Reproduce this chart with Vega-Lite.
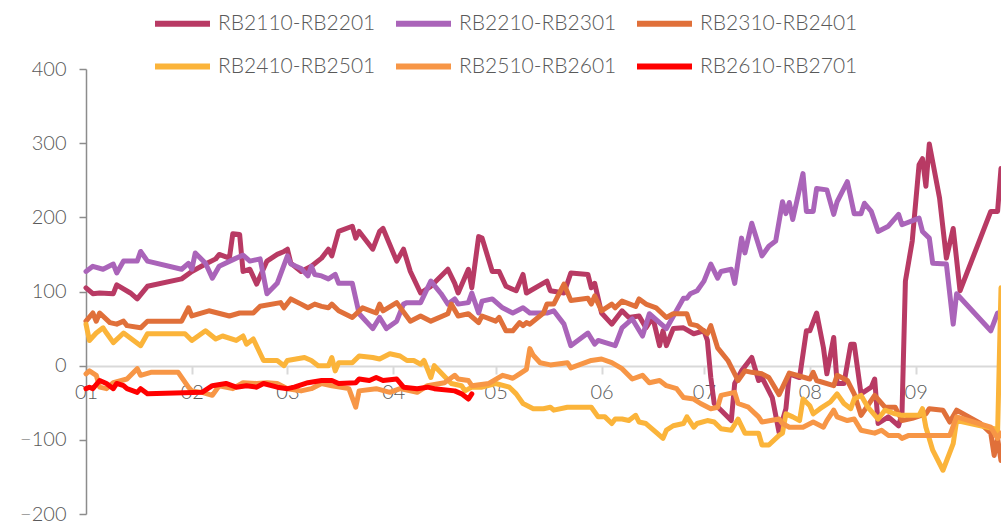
{
"$schema": "https://vega.github.io/schema/vega-lite/v6.json",
"width": 915, "height": 445,
"autosize": {"type": "none"},
"padding": {"left": 86, "top": 69, "right": 0, "bottom": 8},
"background": "white",
"config": {
  "view": {"stroke": null},
  "font": "Lato",
  "legend": {"orient": "none", "legendX": 66, "legendY": -76, "direction": "horizontal", "columns": 3,
    "symbolType": "stroke", "symbolSize": 3025, "symbolStrokeWidth": 6, "labelFontSize": 21, "labelFontWeight": 300,
    "labelColor": "#595959", "labelFont": "Lato", "labelOffset": 5, "columnPadding": 8, "rowPadding": -4, "labelLimit": 0}
},
"datasets": {
"s1": [{"d":"2021-01-01","v":105},{"d":"2021-01-03","v":97},{"d":"2021-01-05","v":98},{"d":"2021-01-09","v":97},{"d":"2021-01-10","v":109},{"d":"2021-01-14","v":98},{"d":"2021-01-16","v":90},{"d":"2021-01-19","v":107},{"d":"2021-01-29","v":117},{"d":"2021-02-01","v":127},{"d":"2021-02-05","v":137},{"d":"2021-02-08","v":144},{"d":"2021-02-09","v":150},{"d":"2021-02-12","v":145},{"d":"2021-02-13","v":178},{"d":"2021-02-15","v":177},{"d":"2021-02-16","v":127},{"d":"2021-02-18","v":130},{"d":"2021-02-20","v":110},{"d":"2021-02-23","v":141},{"d":"2021-02-26","v":150},{"d":"2021-02-28","v":154},{"d":"2021-03-01","v":157},{"d":"2021-03-02","v":138},{"d":"2021-03-05","v":127},{"d":"2021-03-08","v":134},{"d":"2021-03-11","v":145},{"d":"2021-03-13","v":157},{"d":"2021-03-14","v":148},{"d":"2021-03-16","v":181},{"d":"2021-03-20","v":188},{"d":"2021-03-21","v":172},{"d":"2021-03-22","v":181},{"d":"2021-03-26","v":157},{"d":"2021-03-28","v":181},{"d":"2021-03-29","v":185},{"d":"2021-04-02","v":141},{"d":"2021-04-04","v":157},{"d":"2021-04-06","v":127},{"d":"2021-04-09","v":98},{"d":"2021-04-12","v":107},{"d":"2021-04-17","v":130},{"d":"2021-04-19","v":111},{"d":"2021-04-20","v":98},{"d":"2021-04-23","v":130},{"d":"2021-04-24","v":105},{"d":"2021-04-26","v":174},{"d":"2021-04-27","v":172},{"d":"2021-04-30","v":127},{"d":"2021-05-02","v":127},{"d":"2021-05-04","v":107},{"d":"2021-05-07","v":101},{"d":"2021-05-09","v":123},{"d":"2021-05-10","v":98},{"d":"2021-05-16","v":114},{"d":"2021-05-17","v":101},{"d":"2021-05-21","v":98},{"d":"2021-05-23","v":125},{"d":"2021-05-28","v":123},{"d":"2021-05-29","v":105},{"d":"2021-05-30","v":111},{"d":"2021-06-01","v":71},{"d":"2021-06-04","v":56},{"d":"2021-06-07","v":74},{"d":"2021-06-09","v":65},{"d":"2021-06-12","v":67},{"d":"2021-06-14","v":51},{"d":"2021-06-16","v":65},{"d":"2021-06-18","v":27},{"d":"2021-06-19","v":47},{"d":"2021-06-20","v":27},{"d":"2021-06-22","v":50},{"d":"2021-06-25","v":51},{"d":"2021-06-28","v":43},{"d":"2021-07-01","v":47},{"d":"2021-07-02","v":34},{"d":"2021-07-03","v":-16},{"d":"2021-07-04","v":-51},{"d":"2021-07-06","v":-60},{"d":"2021-07-09","v":-74},{"d":"2021-07-10","v":-24},{"d":"2021-07-12","v":-7},{"d":"2021-07-15","v":11},{"d":"2021-07-17","v":-20},{"d":"2021-07-18","v":-16},{"d":"2021-07-21","v":-43},{"d":"2021-07-23","v":-90},{"d":"2021-07-25","v":-58},{"d":"2021-07-26","v":-11},{"d":"2021-07-29","v":-16},{"d":"2021-07-31","v":47},{"d":"2021-08-01","v":47},{"d":"2021-08-03","v":71},{"d":"2021-08-05","v":24},{"d":"2021-08-06","v":-11},{"d":"2021-08-08","v":38},{"d":"2021-08-09","v":-24},{"d":"2021-08-11","v":-24},{"d":"2021-08-13","v":29},{"d":"2021-08-14","v":29},{"d":"2021-08-16","v":-38},{"d":"2021-08-19","v":-29},{"d":"2021-08-20","v":-18},{"d":"2021-08-21","v":-78},{"d":"2021-08-24","v":-69},{"d":"2021-08-27","v":-81},{"d":"2021-08-28","v":-65},{"d":"2021-08-29","v":114},{"d":"2021-08-31","v":168},{"d":"2021-09-02","v":271},{"d":"2021-09-03","v":279},{"d":"2021-09-04","v":242},{"d":"2021-09-05","v":299},{"d":"2021-09-08","v":226},{"d":"2021-09-10","v":145},{"d":"2021-09-12","v":185},{"d":"2021-09-14","v":101},{"d":"2021-09-23","v":208},{"d":"2021-09-25","v":208},{"d":"2021-09-26","v":266}],
"s2": [{"d":"2021-01-01","v":127},{"d":"2021-01-03","v":134},{"d":"2021-01-06","v":130},{"d":"2021-01-09","v":137},{"d":"2021-01-10","v":125},{"d":"2021-01-12","v":141},{"d":"2021-01-16","v":141},{"d":"2021-01-17","v":154},{"d":"2021-01-19","v":141},{"d":"2021-01-29","v":130},{"d":"2021-01-31","v":138},{"d":"2021-02-01","v":130},{"d":"2021-02-02","v":152},{"d":"2021-02-05","v":138},{"d":"2021-02-07","v":118},{"d":"2021-02-09","v":134},{"d":"2021-02-14","v":145},{"d":"2021-02-16","v":149},{"d":"2021-02-18","v":141},{"d":"2021-02-21","v":144},{"d":"2021-02-23","v":97},{"d":"2021-02-26","v":111},{"d":"2021-03-01","v":148},{"d":"2021-03-02","v":137},{"d":"2021-03-05","v":131},{"d":"2021-03-07","v":121},{"d":"2021-03-08","v":134},{"d":"2021-03-09","v":123},{"d":"2021-03-11","v":121},{"d":"2021-03-13","v":117},{"d":"2021-03-15","v":123},{"d":"2021-03-16","v":111},{"d":"2021-03-20","v":111},{"d":"2021-03-22","v":70},{"d":"2021-03-26","v":50},{"d":"2021-03-28","v":65},{"d":"2021-03-30","v":50},{"d":"2021-04-02","v":60},{"d":"2021-04-04","v":83},{"d":"2021-04-05","v":85},{"d":"2021-04-09","v":85},{"d":"2021-04-12","v":114},{"d":"2021-04-15","v":97},{"d":"2021-04-17","v":83},{"d":"2021-04-19","v":90},{"d":"2021-04-20","v":83},{"d":"2021-04-23","v":85},{"d":"2021-04-24","v":98},{"d":"2021-04-26","v":71},{"d":"2021-04-27","v":87},{"d":"2021-04-30","v":90},{"d":"2021-05-03","v":78},{"d":"2021-05-06","v":71},{"d":"2021-05-09","v":78},{"d":"2021-05-11","v":71},{"d":"2021-05-16","v":71},{"d":"2021-05-18","v":74},{"d":"2021-05-21","v":56},{"d":"2021-05-23","v":27},{"d":"2021-05-28","v":44},{"d":"2021-05-30","v":29},{"d":"2021-05-31","v":34},{"d":"2021-06-05","v":27},{"d":"2021-06-07","v":51},{"d":"2021-06-10","v":63},{"d":"2021-06-13","v":40},{"d":"2021-06-15","v":70},{"d":"2021-06-20","v":50},{"d":"2021-06-25","v":91},{"d":"2021-06-26","v":91},{"d":"2021-06-27","v":97},{"d":"2021-06-29","v":101},{"d":"2021-07-01","v":114},{"d":"2021-07-03","v":137},{"d":"2021-07-05","v":118},{"d":"2021-07-06","v":127},{"d":"2021-07-09","v":130},{"d":"2021-07-10","v":111},{"d":"2021-07-12","v":172},{"d":"2021-07-13","v":152},{"d":"2021-07-15","v":192},{"d":"2021-07-18","v":148},{"d":"2021-07-20","v":161},{"d":"2021-07-22","v":168},{"d":"2021-07-24","v":221},{"d":"2021-07-25","v":205},{"d":"2021-07-26","v":220},{"d":"2021-07-27","v":197},{"d":"2021-07-30","v":259},{"d":"2021-07-31","v":208},{"d":"2021-08-02","v":208},{"d":"2021-08-03","v":239},{"d":"2021-08-06","v":237},{"d":"2021-08-08","v":204},{"d":"2021-08-09","v":221},{"d":"2021-08-12","v":248},{"d":"2021-08-14","v":205},{"d":"2021-08-16","v":205},{"d":"2021-08-17","v":219},{"d":"2021-08-19","v":208},{"d":"2021-08-21","v":181},{"d":"2021-08-24","v":188},{"d":"2021-08-27","v":204},{"d":"2021-08-28","v":190},{"d":"2021-09-02","v":199},{"d":"2021-09-03","v":181},{"d":"2021-09-05","v":172},{"d":"2021-09-06","v":138},{"d":"2021-09-10","v":137},{"d":"2021-09-12","v":56},{"d":"2021-09-13","v":97},{"d":"2021-09-23","v":47},{"d":"2021-09-25","v":71},{"d":"2021-09-26","v":71}],
"s3": [{"d":"2021-01-01","v":60},{"d":"2021-01-03","v":71},{"d":"2021-01-04","v":60},{"d":"2021-01-05","v":71},{"d":"2021-01-08","v":58},{"d":"2021-01-10","v":56},{"d":"2021-01-12","v":60},{"d":"2021-01-13","v":54},{"d":"2021-01-17","v":51},{"d":"2021-01-19","v":60},{"d":"2021-01-29","v":60},{"d":"2021-01-31","v":78},{"d":"2021-02-01","v":67},{"d":"2021-02-06","v":74},{"d":"2021-02-12","v":67},{"d":"2021-02-15","v":71},{"d":"2021-02-19","v":71},{"d":"2021-02-21","v":80},{"d":"2021-02-27","v":85},{"d":"2021-02-28","v":78},{"d":"2021-03-02","v":90},{"d":"2021-03-05","v":83},{"d":"2021-03-07","v":78},{"d":"2021-03-09","v":83},{"d":"2021-03-11","v":80},{"d":"2021-03-13","v":78},{"d":"2021-03-14","v":83},{"d":"2021-03-16","v":74},{"d":"2021-03-20","v":65},{"d":"2021-03-23","v":78},{"d":"2021-03-27","v":71},{"d":"2021-03-28","v":83},{"d":"2021-03-29","v":74},{"d":"2021-04-02","v":85},{"d":"2021-04-06","v":60},{"d":"2021-04-09","v":67},{"d":"2021-04-12","v":60},{"d":"2021-04-17","v":70},{"d":"2021-04-18","v":83},{"d":"2021-04-20","v":67},{"d":"2021-04-23","v":70},{"d":"2021-04-26","v":58},{"d":"2021-04-27","v":67},{"d":"2021-05-01","v":60},{"d":"2021-05-02","v":65},{"d":"2021-05-04","v":47},{"d":"2021-05-06","v":47},{"d":"2021-05-08","v":58},{"d":"2021-05-09","v":54},{"d":"2021-05-10","v":58},{"d":"2021-05-11","v":56},{"d":"2021-05-15","v":71},{"d":"2021-05-16","v":83},{"d":"2021-05-18","v":83},{"d":"2021-05-21","v":110},{"d":"2021-05-23","v":88},{"d":"2021-05-28","v":91},{"d":"2021-05-29","v":83},{"d":"2021-05-30","v":94},{"d":"2021-06-01","v":74},{"d":"2021-06-04","v":83},{"d":"2021-06-05","v":78},{"d":"2021-06-07","v":87},{"d":"2021-06-11","v":80},{"d":"2021-06-12","v":90},{"d":"2021-06-14","v":83},{"d":"2021-06-17","v":78},{"d":"2021-06-20","v":65},{"d":"2021-06-22","v":70},{"d":"2021-06-26","v":70},{"d":"2021-06-27","v":56},{"d":"2021-06-29","v":54},{"d":"2021-07-02","v":43},{"d":"2021-07-03","v":54},{"d":"2021-07-05","v":24},{"d":"2021-07-08","v":7},{"d":"2021-07-10","v":-11},{"d":"2021-07-11","v":-20},{"d":"2021-07-13","v":-7},{"d":"2021-07-15","v":-9},{"d":"2021-07-18","v":-11},{"d":"2021-07-20","v":-16},{"d":"2021-07-23","v":-39},{"d":"2021-07-26","v":-10},{"d":"2021-08-01","v":-18},{"d":"2021-08-02","v":-9},{"d":"2021-08-03","v":-20},{"d":"2021-08-08","v":-27},{"d":"2021-08-09","v":-13},{"d":"2021-08-12","v":-20},{"d":"2021-08-14","v":-38},{"d":"2021-08-16","v":-67},{"d":"2021-08-20","v":-40},{"d":"2021-08-23","v":-56},{"d":"2021-08-26","v":-56},{"d":"2021-08-28","v":-74},{"d":"2021-08-31","v":-71},{"d":"2021-09-04","v":-65},{"d":"2021-09-05","v":-58},{"d":"2021-09-09","v":-60},{"d":"2021-09-11","v":-76},{"d":"2021-09-13","v":-60},{"d":"2021-09-20","v":-78},{"d":"2021-09-23","v":-91},{"d":"2021-09-24","v":-121},{"d":"2021-09-25","v":-98},{"d":"2021-09-26","v":-128}],
"s4": [{"d":"2021-01-01","v":56},{"d":"2021-01-02","v":34},{"d":"2021-01-04","v":44},{"d":"2021-01-06","v":51},{"d":"2021-01-07","v":44},{"d":"2021-01-09","v":31},{"d":"2021-01-12","v":44},{"d":"2021-01-17","v":27},{"d":"2021-01-19","v":43},{"d":"2021-01-30","v":43},{"d":"2021-02-01","v":34},{"d":"2021-02-05","v":47},{"d":"2021-02-08","v":36},{"d":"2021-02-10","v":40},{"d":"2021-02-14","v":34},{"d":"2021-02-16","v":40},{"d":"2021-02-17","v":29},{"d":"2021-02-19","v":36},{"d":"2021-02-22","v":7},{"d":"2021-02-26","v":7},{"d":"2021-02-28","v":0},{"d":"2021-03-01","v":7},{"d":"2021-03-06","v":11},{"d":"2021-03-08","v":7},{"d":"2021-03-10","v":0},{"d":"2021-03-13","v":0},{"d":"2021-03-14","v":11},{"d":"2021-03-15","v":-7},{"d":"2021-03-16","v":4},{"d":"2021-03-20","v":4},{"d":"2021-03-22","v":13},{"d":"2021-03-26","v":11},{"d":"2021-03-28","v":9},{"d":"2021-03-31","v":16},{"d":"2021-04-03","v":13},{"d":"2021-04-05","v":7},{"d":"2021-04-07","v":7},{"d":"2021-04-09","v":2},{"d":"2021-04-10","v":7},{"d":"2021-04-12","v":-16},{"d":"2021-04-13","v":0},{"d":"2021-04-18","v":-24},{"d":"2021-04-21","v":-27},{"d":"2021-04-22","v":-34},{"d":"2021-04-24","v":-29},{"d":"2021-04-27","v":-29},{"d":"2021-05-01","v":-24},{"d":"2021-05-05","v":-29},{"d":"2021-05-07","v":-38},{"d":"2021-05-09","v":-51},{"d":"2021-05-12","v":-58},{"d":"2021-05-15","v":-58},{"d":"2021-05-17","v":-56},{"d":"2021-05-18","v":-60},{"d":"2021-05-22","v":-56},{"d":"2021-05-29","v":-56},{"d":"2021-05-31","v":-69},{"d":"2021-06-02","v":-69},{"d":"2021-06-04","v":-78},{"d":"2021-06-05","v":-72},{"d":"2021-06-07","v":-72},{"d":"2021-06-09","v":-74},{"d":"2021-06-11","v":-67},{"d":"2021-06-12","v":-76},{"d":"2021-06-14","v":-78},{"d":"2021-06-17","v":-90},{"d":"2021-06-19","v":-98},{"d":"2021-06-20","v":-87},{"d":"2021-06-22","v":-81},{"d":"2021-06-25","v":-78},{"d":"2021-06-26","v":-69},{"d":"2021-06-28","v":-83},{"d":"2021-06-29","v":-78},{"d":"2021-07-02","v":-74},{"d":"2021-07-04","v":-76},{"d":"2021-07-06","v":-85},{"d":"2021-07-09","v":-87},{"d":"2021-07-11","v":-72},{"d":"2021-07-13","v":-91},{"d":"2021-07-17","v":-91},{"d":"2021-07-18","v":-107},{"d":"2021-07-20","v":-107},{"d":"2021-07-23","v":-94},{"d":"2021-07-24","v":-91},{"d":"2021-07-25","v":-65},{"d":"2021-07-27","v":-69},{"d":"2021-07-29","v":-74},{"d":"2021-07-30","v":-45},{"d":"2021-08-01","v":-54},{"d":"2021-08-02","v":-65},{"d":"2021-08-04","v":-58},{"d":"2021-08-07","v":-49},{"d":"2021-08-09","v":-38},{"d":"2021-08-11","v":-51},{"d":"2021-08-13","v":-58},{"d":"2021-08-14","v":-45},{"d":"2021-08-16","v":-40},{"d":"2021-08-18","v":-56},{"d":"2021-08-21","v":-72},{"d":"2021-08-23","v":-60},{"d":"2021-08-26","v":-65},{"d":"2021-08-28","v":-67},{"d":"2021-09-02","v":-67},{"d":"2021-09-03","v":-58},{"d":"2021-09-04","v":-83},{"d":"2021-09-06","v":-114},{"d":"2021-09-09","v":-141},{"d":"2021-09-12","v":-105},{"d":"2021-09-13","v":-74},{"d":"2021-09-24","v":-85},{"d":"2021-09-25","v":-91},{"d":"2021-09-26","v":105}],
"s5": [{"d":"2021-01-01","v":-11},{"d":"2021-01-02","v":-7},{"d":"2021-01-04","v":-13},{"d":"2021-01-05","v":-29},{"d":"2021-01-07","v":-31},{"d":"2021-01-09","v":-23},{"d":"2021-01-13","v":-18},{"d":"2021-01-16","v":-4},{"d":"2021-01-17","v":-13},{"d":"2021-01-20","v":-9},{"d":"2021-01-28","v":-9},{"d":"2021-01-31","v":-29},{"d":"2021-02-01","v":-34},{"d":"2021-02-04","v":-36},{"d":"2021-02-07","v":-40},{"d":"2021-02-09","v":-27},{"d":"2021-02-13","v":-31},{"d":"2021-02-16","v":-23},{"d":"2021-02-20","v":-24},{"d":"2021-02-23","v":-23},{"d":"2021-02-26","v":-24},{"d":"2021-03-01","v":-31},{"d":"2021-03-05","v":-34},{"d":"2021-03-08","v":-31},{"d":"2021-03-11","v":-24},{"d":"2021-03-14","v":-27},{"d":"2021-03-19","v":-31},{"d":"2021-03-21","v":-56},{"d":"2021-03-22","v":-34},{"d":"2021-03-27","v":-31},{"d":"2021-03-31","v":-36},{"d":"2021-04-03","v":-31},{"d":"2021-04-08","v":-36},{"d":"2021-04-11","v":-27},{"d":"2021-04-16","v":-23},{"d":"2021-04-19","v":-13},{"d":"2021-04-20","v":-18},{"d":"2021-04-23","v":-20},{"d":"2021-04-24","v":-27},{"d":"2021-04-29","v":-24},{"d":"2021-05-03","v":-13},{"d":"2021-05-06","v":-17},{"d":"2021-05-08","v":-11},{"d":"2021-05-10","v":-5},{"d":"2021-05-11","v":23},{"d":"2021-05-12","v":14},{"d":"2021-05-14","v":4},{"d":"2021-05-17","v":1},{"d":"2021-05-22","v":4},{"d":"2021-05-23","v":-3},{"d":"2021-05-29","v":7},{"d":"2021-06-01","v":9},{"d":"2021-06-04","v":4},{"d":"2021-06-07","v":-4},{"d":"2021-06-10","v":-18},{"d":"2021-06-13","v":-13},{"d":"2021-06-15","v":-23},{"d":"2021-06-18","v":-20},{"d":"2021-06-20","v":-27},{"d":"2021-06-23","v":-31},{"d":"2021-06-25","v":-43},{"d":"2021-06-28","v":-45},{"d":"2021-06-30","v":-51},{"d":"2021-07-03","v":-58},{"d":"2021-07-05","v":-56},{"d":"2021-07-06","v":-40},{"d":"2021-07-10","v":-36},{"d":"2021-07-11","v":-51},{"d":"2021-07-14","v":-56},{"d":"2021-07-17","v":-69},{"d":"2021-07-18","v":-76},{"d":"2021-07-23","v":-72},{"d":"2021-07-24","v":-78},{"d":"2021-07-26","v":-83},{"d":"2021-07-30","v":-83},{"d":"2021-08-02","v":-76},{"d":"2021-08-05","v":-83},{"d":"2021-08-06","v":-74},{"d":"2021-08-08","v":-60},{"d":"2021-08-09","v":-69},{"d":"2021-08-12","v":-74},{"d":"2021-08-14","v":-72},{"d":"2021-08-16","v":-87},{"d":"2021-08-20","v":-91},{"d":"2021-08-22","v":-87},{"d":"2021-08-24","v":-94},{"d":"2021-08-27","v":-94},{"d":"2021-08-28","v":-98},{"d":"2021-08-30","v":-94},{"d":"2021-09-11","v":-94},{"d":"2021-09-13","v":-69},{"d":"2021-09-23","v":-83},{"d":"2021-09-25","v":-98},{"d":"2021-09-26","v":-91}],
"s6": [{"d":"2021-01-01","v":-31},{"d":"2021-01-02","v":-29},{"d":"2021-01-03","v":-31},{"d":"2021-01-05","v":-20},{"d":"2021-01-07","v":-24},{"d":"2021-01-09","v":-31},{"d":"2021-01-10","v":-24},{"d":"2021-01-12","v":-27},{"d":"2021-01-13","v":-31},{"d":"2021-01-16","v":-36},{"d":"2021-01-17","v":-31},{"d":"2021-01-19","v":-38},{"d":"2021-02-04","v":-36},{"d":"2021-02-07","v":-27},{"d":"2021-02-11","v":-24},{"d":"2021-02-14","v":-29},{"d":"2021-02-17","v":-27},{"d":"2021-02-20","v":-29},{"d":"2021-02-22","v":-24},{"d":"2021-02-26","v":-29},{"d":"2021-03-01","v":-31},{"d":"2021-03-03","v":-29},{"d":"2021-03-07","v":-23},{"d":"2021-03-11","v":-20},{"d":"2021-03-14","v":-20},{"d":"2021-03-16","v":-24},{"d":"2021-03-21","v":-23},{"d":"2021-03-22","v":-18},{"d":"2021-03-25","v":-20},{"d":"2021-03-27","v":-16},{"d":"2021-03-29","v":-20},{"d":"2021-04-02","v":-18},{"d":"2021-04-04","v":-29},{"d":"2021-04-08","v":-31},{"d":"2021-04-11","v":-29},{"d":"2021-04-13","v":-31},{"d":"2021-04-19","v":-34},{"d":"2021-04-21","v":-38},{"d":"2021-04-23","v":-45},{"d":"2021-04-24","v":-38}]
},
"encoding": {
  "x": {"field": "d", "type": "temporal",
    "scale": {"type": "utc", "domain": [{"year": 2021, "month": 1, "date": 1, "utc": true}, {"year": 2021, "month": 9, "date": 26, "utc": true}]},
    "axis": {"title": null, "format": "%m", "tickCount": {"interval": "month", "step": 1}, "offset": -148, "grid": false,
      "domainColor": "#d9d9d9", "domainWidth": 2, "tickColor": "#d9d9d9", "tickWidth": 2, "tickSize": 8,
      "labelFontSize": 20, "labelFontWeight": 300, "labelColor": "#595959", "labelPadding": 8, "labelFlush": false, "labelOverlap": false}},
  "y": {"field": "v", "type": "quantitative",
    "scale": {"domain": [-200, 400], "nice": false, "zero": false},
    "axis": {"title": null, "values": [-200, -100, 0, 100, 200, 300, 400], "grid": false,
      "domainColor": "#8c8c8c", "domainWidth": 1.5, "tickColor": "#8c8c8c", "tickWidth": 1.5, "tickSize": 7,
      "labelFontSize": 20, "labelFontWeight": 300, "labelColor": "#595959", "labelPadding": 13, "labelFlush": false}}
},
"layer": [
  {"data": {"name": "s1"}, "mark": {"type": "line", "strokeWidth": 5, "strokeJoin": "round", "strokeCap": "round"},
   "encoding": {"color": {"datum": "RB2110-RB2201", "type": "nominal", "legend": {"title": null},
     "scale": {"domain": ["RB2110-RB2201", "RB2210-RB2301", "RB2310-RB2401", "RB2410-RB2501", "RB2510-RB2601", "RB2610-RB2701"], "range": ["#B83A64", "#AA64B9", "#E0703A", "#FBB43A", "#F79646", "#FF0000"]}}}},
  {"data": {"name": "s2"}, "mark": {"type": "line", "strokeWidth": 5, "strokeJoin": "round", "strokeCap": "round"},
   "encoding": {"color": {"datum": "RB2210-RB2301", "type": "nominal", "legend": {"title": null},
     "scale": {"domain": ["RB2110-RB2201", "RB2210-RB2301", "RB2310-RB2401", "RB2410-RB2501", "RB2510-RB2601", "RB2610-RB2701"], "range": ["#B83A64", "#AA64B9", "#E0703A", "#FBB43A", "#F79646", "#FF0000"]}}}},
  {"data": {"name": "s3"}, "mark": {"type": "line", "strokeWidth": 5, "strokeJoin": "round", "strokeCap": "round"},
   "encoding": {"color": {"datum": "RB2310-RB2401", "type": "nominal", "legend": {"title": null},
     "scale": {"domain": ["RB2110-RB2201", "RB2210-RB2301", "RB2310-RB2401", "RB2410-RB2501", "RB2510-RB2601", "RB2610-RB2701"], "range": ["#B83A64", "#AA64B9", "#E0703A", "#FBB43A", "#F79646", "#FF0000"]}}}},
  {"data": {"name": "s4"}, "mark": {"type": "line", "strokeWidth": 5, "strokeJoin": "round", "strokeCap": "round"},
   "encoding": {"color": {"datum": "RB2410-RB2501", "type": "nominal", "legend": {"title": null},
     "scale": {"domain": ["RB2110-RB2201", "RB2210-RB2301", "RB2310-RB2401", "RB2410-RB2501", "RB2510-RB2601", "RB2610-RB2701"], "range": ["#B83A64", "#AA64B9", "#E0703A", "#FBB43A", "#F79646", "#FF0000"]}}}},
  {"data": {"name": "s5"}, "mark": {"type": "line", "strokeWidth": 5, "strokeJoin": "round", "strokeCap": "round"},
   "encoding": {"color": {"datum": "RB2510-RB2601", "type": "nominal", "legend": {"title": null},
     "scale": {"domain": ["RB2110-RB2201", "RB2210-RB2301", "RB2310-RB2401", "RB2410-RB2501", "RB2510-RB2601", "RB2610-RB2701"], "range": ["#B83A64", "#AA64B9", "#E0703A", "#FBB43A", "#F79646", "#FF0000"]}}}},
  {"data": {"name": "s6"}, "mark": {"type": "line", "strokeWidth": 5, "strokeJoin": "round", "strokeCap": "round"},
   "encoding": {"color": {"datum": "RB2610-RB2701", "type": "nominal", "legend": {"title": null},
     "scale": {"domain": ["RB2110-RB2201", "RB2210-RB2301", "RB2310-RB2401", "RB2410-RB2501", "RB2510-RB2601", "RB2610-RB2701"], "range": ["#B83A64", "#AA64B9", "#E0703A", "#FBB43A", "#F79646", "#FF0000"]}}}}
]
}
